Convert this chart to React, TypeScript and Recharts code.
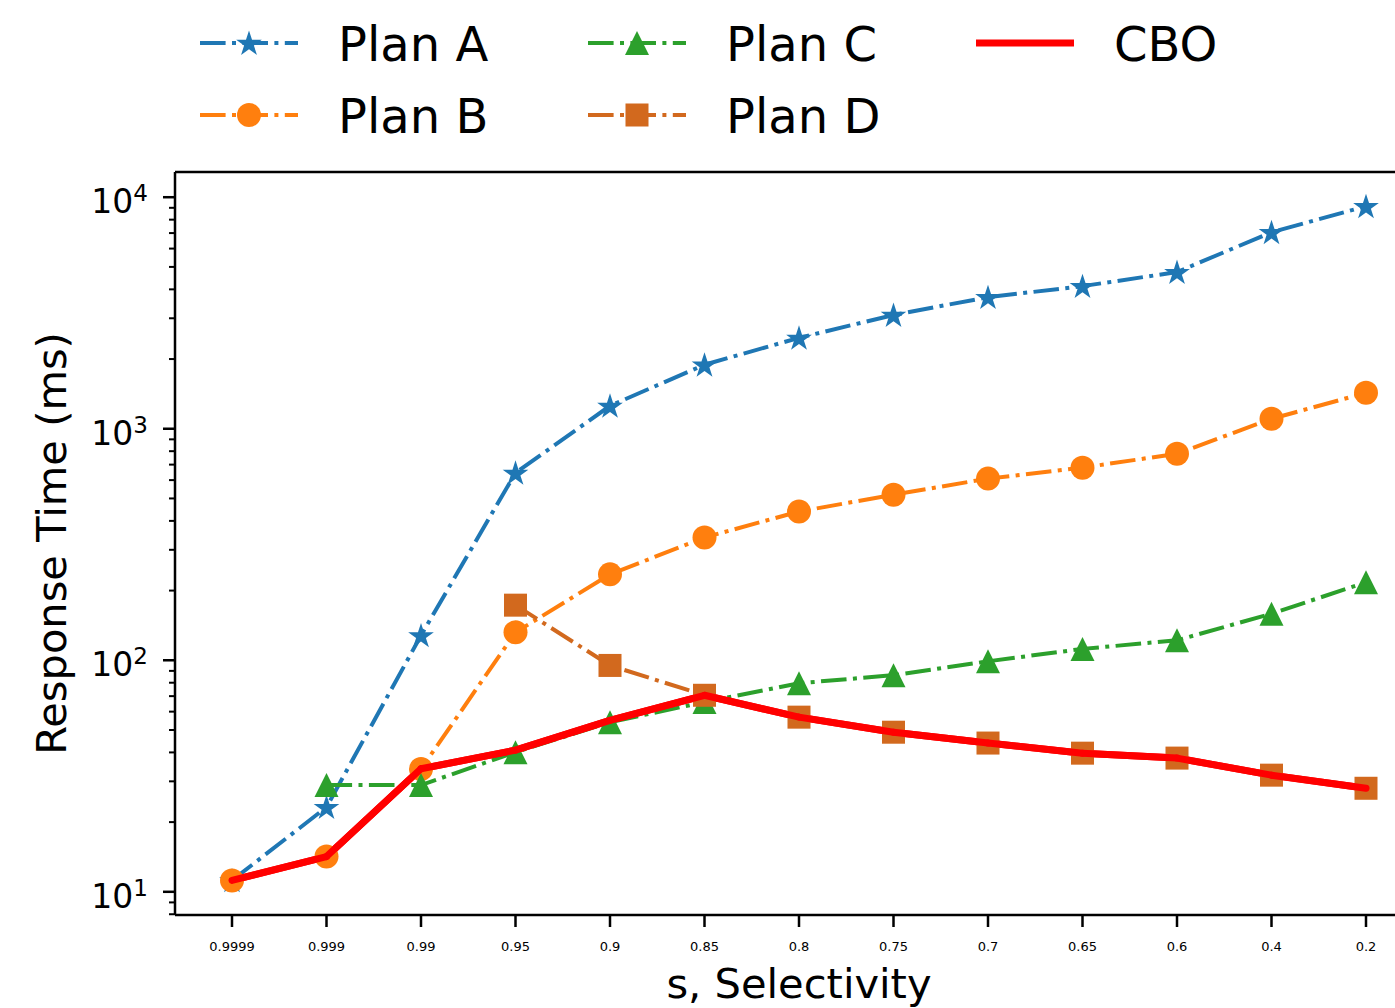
import React from "react";
import { LineChart, Line, XAxis, YAxis, Label, ReferenceLine } from "recharts";

const categories = ["0.9999", "0.999", "0.99", "0.95", "0.9", "0.85", "0.8", "0.75", "0.7", "0.65", "0.6", "0.4", "0.2"];
const planA = [11.2, 23.2, 128, 645, 1256, 1890, 2470, 3100, 3700, 4130, 4750, 7060, 9140];
const planB = [11.2, 14.2, 33.9, 132, 235, 339, 439, 519, 609, 679, 780, 1104, 1429];
const planC = [null, 28.9, 28.9, 40.1, 54, 66, 79.6, 86.2, 99, 112, 122, 159, 217];
const planD = [null, null, null, 173, 95, 70.6, 56.8, 48.9, 43.9, 39.7, 37.8, 31.9, 28];
const cbo = [11.2, 14.2, 34, 40.9, 55, 70.6, 56.8, 48.9, 43.9, 39.7, 37.8, 31.9, 28];

const yMajorTicks = [10, 100, 1000, 10000];
const yMajorExp = ["1", "2", "3", "4"];
const yMinorTicks = [8, 9, 20, 30, 40, 50, 60, 70, 80, 90, 200, 300, 400, 500, 600, 700, 800, 900, 2000, 3000, 4000, 5000, 6000, 7000, 8000, 9000];
const yTop = 12850;

const data = categories.map((s, i) => ({
  s,
  a: planA[i],
  b: planB[i],
  c: planC[i],
  d: planD[i],
  cbo: cbo[i],
}));

const FONT = "DejaVu Sans";
const DASHDOT = "25.6 6.4 4 6.4";
const BLUE = "#1f77b4";
const ORANGE = "#ff7f0e";
const GREEN = "#2ca02c";
const CHOC = "#d2691e";
const RED = "#ff0000";

function starPath(cx: number, cy: number, r: number) {
  const inner = r * 0.382;
  let d = "";
  for (let k = 0; k < 10; k++) {
    const rr = k % 2 === 0 ? r : inner;
    const ang = -Math.PI / 2 + (k * Math.PI) / 5;
    d += (k === 0 ? "M" : "L") + (cx + rr * Math.cos(ang)).toFixed(2) + "," + (cy + rr * Math.sin(ang)).toFixed(2);
  }
  return d + "Z";
}

const Marker = ({ kind, cx, cy, color }: { kind: string; cx: number; cy: number; color: string }) => {
  if (kind === "star") return <path d={starPath(cx, cy + 1, 13.5)} fill={color} />;
  if (kind === "circle") return <circle cx={cx} cy={cy} r={12} fill={color} />;
  if (kind === "tri")
    return <path d={`M${cx},${cy - 12}L${cx - 12},${cy + 12}L${cx + 12},${cy + 12}Z`} fill={color} />;
  if (kind === "square") return <rect x={cx - 11.5} y={cy - 11.5} width={23} height={23} fill={color} />;
  return null;
};

const makeDot = (kind: string, color: string) => (props: any) => {
  const { cx, cy, index, value } = props;
  if (value == null || cy == null || isNaN(cy)) return <g key={`n${index}`} />;
  return (
    <g key={`${kind}${index}`}>
      <Marker kind={kind} cx={cx} cy={cy} color={color} />
    </g>
  );
};

// the CBO curve is drawn segment by segment in the dot layer so it sits above the markers
const cboDot = (props: any) => {
  const { cx, cy, index, points } = props;
  const prev = points && index > 0 ? points[index - 1] : null;
  return (
    <g key={`cbo${index}`}>
      {prev && prev.y != null ? (
        <line x1={prev.x} y1={prev.y} x2={cx} y2={cy} stroke={RED} strokeWidth={7} strokeLinecap="round" />
      ) : null}
    </g>
  );
};

const YTick = (props: any) => {
  const { x, y, payload } = props;
  const mi = yMajorTicks.indexOf(payload.value);
  if (mi < 0) {
    return <line x1={x - 6} x2={x} y1={y} y2={y} stroke="#000" strokeWidth={2} />;
  }
  return (
    <g>
      <line x1={x - 12} x2={x} y1={y} y2={y} stroke="#000" strokeWidth={2.5} />
      <text x={x - 27} y={y + 16} textAnchor="end" fontFamily={FONT} fontSize={33} fill="#000">
        10
        <tspan fontSize={23} dy={-12}>
          {yMajorExp[mi]}
        </tspan>
      </text>
    </g>
  );
};

const legendItems = [
  { name: "Plan A", kind: "star", color: BLUE, x: 200, y: 43, dash: DASHDOT, w: 4 },
  { name: "Plan B", kind: "circle", color: ORANGE, x: 200, y: 115, dash: DASHDOT, w: 4 },
  { name: "Plan C", kind: "tri", color: GREEN, x: 588, y: 43, dash: DASHDOT, w: 4 },
  { name: "Plan D", kind: "square", color: CHOC, x: 588, y: 115, dash: DASHDOT, w: 4 },
  { name: "CBO", kind: "none", color: RED, x: 976, y: 43, dash: undefined, w: 7 },
];

const App = () => {
  return (
    <div style={{ position: "absolute", left: 0, top: 0, width: 1395, height: 1008, overflow: "hidden", background: "#fff" }}>
      <LineChart width={1440} height={1008} data={data} margin={{ top: 172, right: 17, bottom: 0, left: 0 }}>
        <XAxis
          dataKey="s"
          type="category"
          scale="point"
          padding={{ left: 57, right: 57 }}
          height={93}
          interval={0}
          tickSize={12}
          tickMargin={15}
          axisLine={{ stroke: "#000", strokeWidth: 2.5 }}
          tickLine={{ stroke: "#000", strokeWidth: 2.5 }}
          tick={{ fontFamily: FONT, fontSize: 13, fill: "#000" }}
        >
          <Label
            content={() => (
              <text x={799} y={998} textAnchor="middle" fontFamily={FONT} fontSize={41.6} fill="#000">
                s, Selectivity
              </text>
            )}
          />
        </XAxis>
        <YAxis
          type="number"
          scale="log"
          domain={[7.94, yTop]}
          allowDataOverflow
          width={175}
          ticks={[...yMajorTicks, ...yMinorTicks]}
          interval={0}
          tickSize={0}
          tickMargin={0}
          tickLine={false}
          axisLine={{ stroke: "#000", strokeWidth: 2.5 }}
          tick={<YTick />}
        >
          <Label
            content={() => (
              <text
                x={66}
                y={543.5}
                transform="rotate(-90 66 543.5)"
                textAnchor="middle"
                fontFamily={FONT}
                fontSize={41.6}
                fill="#000"
              >
                Response Time (ms)
              </text>
            )}
          />
        </YAxis>
        <ReferenceLine y={yTop} stroke="#000" strokeWidth={2.5} />
        <Line dataKey="a" stroke={BLUE} strokeWidth={4} strokeDasharray={DASHDOT} dot={makeDot("star", BLUE)} activeDot={false} isAnimationActive={false} />
        <Line dataKey="b" stroke={ORANGE} strokeWidth={4} strokeDasharray={DASHDOT} dot={makeDot("circle", ORANGE)} activeDot={false} isAnimationActive={false} />
        <Line dataKey="c" stroke={GREEN} strokeWidth={4} strokeDasharray={DASHDOT} dot={makeDot("tri", GREEN)} activeDot={false} isAnimationActive={false} />
        <Line dataKey="d" stroke={CHOC} strokeWidth={4} strokeDasharray={DASHDOT} dot={makeDot("square", CHOC)} activeDot={false} isAnimationActive={false} />
        <Line dataKey="cbo" stroke={RED} strokeWidth={7} dot={cboDot} activeDot={false} isAnimationActive={false} />
      </LineChart>
      <svg width={1395} height={170} style={{ position: "absolute", left: 0, top: 0 }}>
        {legendItems.map((it) => (
          <g key={it.name}>
            <line x1={it.x} x2={it.x + 98} y1={it.y} y2={it.y} stroke={it.color} strokeWidth={it.w} strokeDasharray={it.dash} />
            <Marker kind={it.kind} cx={it.x + 49} cy={it.y} color={it.color} />
            <text x={it.x + 138} y={it.y + 18} fontFamily={FONT} fontSize={48} fill="#000">
              {it.name}
            </text>
          </g>
        ))}
      </svg>
    </div>
  );
};

export default App;
